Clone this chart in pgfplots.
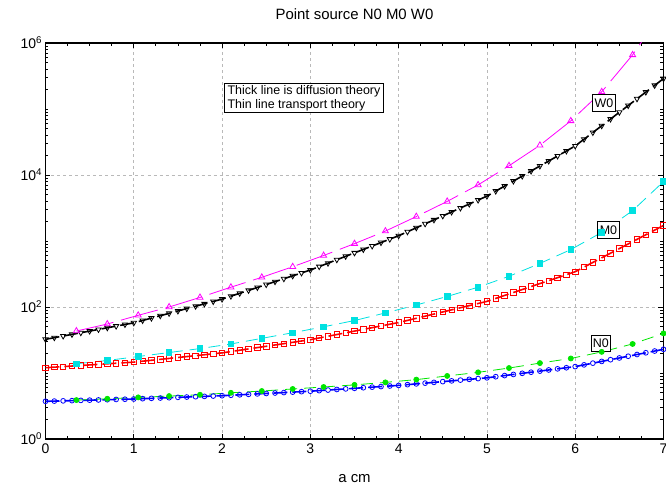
\documentclass[border=0pt]{standalone}
\usepackage{pgfplots}
\pgfplotsset{compat=1.18}
\usepackage{pgfplotstable}
\usepackage{fontspec}
\setmainfont{Liberation Sans}

\pgfplotstableread{
x y
0.0 3.724
0.1 3.754
0.2 3.785
0.3 3.815
0.4 3.846
0.5 3.877
0.6 3.908
0.7 3.940
0.8 3.972
0.9 4.004
1.0 4.036
1.1 4.083
1.2 4.130
1.3 4.178
1.4 4.226
1.5 4.275
1.6 4.325
1.7 4.375
1.8 4.425
1.9 4.477
2.0 4.529
2.1 4.600
2.2 4.673
2.3 4.747
2.4 4.822
2.5 4.898
2.6 4.975
2.7 5.054
2.8 5.134
2.9 5.215
3.0 5.297
3.1 5.405
3.2 5.516
3.3 5.629
3.4 5.744
3.5 5.862
3.6 5.982
3.7 6.104
3.8 6.229
3.9 6.357
4.0 6.486
4.1 6.660
4.2 6.839
4.3 7.022
4.4 7.210
4.5 7.404
4.6 7.602
4.7 7.806
4.8 8.016
4.9 8.231
5.0 8.451
5.1 8.790
5.2 9.141
5.3 9.506
5.4 9.886
5.5 10.28
5.6 10.69
5.7 11.12
5.8 11.56
5.9 12.02
6.0 12.50
6.1 13.28
6.2 14.10
6.3 14.98
6.4 15.91
6.5 16.90
6.6 17.95
6.7 19.06
6.8 20.25
6.9 21.51
7.0 22.85
}\NzeroDiff

\pgfplotstableread{
x y
0.0 12.02
0.1 12.26
0.2 12.50
0.3 12.75
0.4 13.00
0.5 13.26
0.6 13.52
0.7 13.79
0.8 14.06
0.9 14.34
1.0 14.62
1.1 15.10
1.2 15.59
1.3 16.10
1.4 16.63
1.5 17.18
1.6 17.74
1.7 18.32
1.8 18.92
1.9 19.54
2.0 20.18
2.1 21.13
2.2 22.13
2.3 23.17
2.4 24.26
2.5 25.40
2.6 26.60
2.7 27.85
2.8 29.16
2.9 30.54
3.0 31.98
3.1 33.95
3.2 36.05
3.3 38.27
3.4 40.64
3.5 43.14
3.6 45.81
3.7 48.63
3.8 51.64
3.9 54.82
4.0 58.21
4.1 62.66
4.2 67.45
4.3 72.61
4.4 78.16
4.5 84.14
4.6 90.57
4.7 97.49
4.8 104.9
4.9 113.0
5.0 121.6
5.1 134.9
5.2 149.6
5.3 165.9
5.4 184.0
5.5 204.0
5.6 226.3
5.7 250.9
5.8 278.3
5.9 308.6
6.0 342.5
6.1 402.8
6.2 473.2
6.3 556.0
6.4 653.2
6.5 767.5
6.6 901.7
6.7 1059
6.8 1245
6.9 1462
7.0 1718
}\MzeroDiff

\pgfplotstableread{
x y
0.0 32.36
0.1 34.28
0.2 36.31
0.3 38.46
0.4 40.74
0.5 43.15
0.6 45.71
0.7 48.42
0.8 51.29
0.9 54.33
1.0 57.54
1.1 62.51
1.2 67.90
1.3 73.76
1.4 80.12
1.5 87.04
1.6 94.55
1.7 102.7
1.8 111.6
1.9 121.2
2.0 131.8
2.1 145.9
2.2 161.4
2.3 178.6
2.4 197.6
2.5 218.8
2.6 242.1
2.7 267.9
2.8 296.5
2.9 328.1
3.0 363.1
3.1 409.3
3.2 461.4
3.3 520.0
3.4 586.2
3.5 660.7
3.6 744.7
3.7 839.5
3.8 946.2
3.9 1067
4.0 1202
4.1 1380
4.2 1585
4.3 1820
4.4 2089
4.5 2399
4.6 2754
4.7 3162
4.8 3631
4.9 4169
5.0 4786
5.1 5701
5.2 6792
5.3 8091
5.4 9638
5.5 11480
5.6 13680
5.7 16290
5.8 19410
5.9 23120
6.0 27540
6.1 34830
6.2 44050
6.3 55710
6.4 70460
6.5 89120
6.6 112700
6.7 142600
6.8 180300
6.9 228000
7.0 288400
}\WzeroDiff

\pgfplotstableread{
x y
0.35 3.89
0.70 4.07
1.05 4.27
1.40 4.47
1.75 4.68
2.10 5.01
2.45 5.33
2.80 5.73
3.15 6.14
3.50 6.61
3.85 7.21
4.20 7.94
4.55 9.02
4.90 10.23
5.25 11.89
5.60 14.13
5.95 16.60
6.30 20.89
6.65 27.54
7.00 39.81
}\NzeroTrans

\pgfplotstableread{
x y
0.35 13.80
0.70 15.49
1.05 17.78
1.40 20.42
1.75 23.44
2.10 27.54
2.45 33.50
2.80 40.74
3.15 50.12
3.50 62.37
3.85 81.28
4.20 107.2
4.55 144.5
4.90 199.5
5.25 291.7
5.60 457.1
5.95 741.3
6.30 1349
6.65 2884
7.00 7943
}\MzeroTrans

\pgfplotstableread{
x y
0.35 43.25
0.70 55.21
1.05 74.82
1.40 100.0
1.75 139.6
2.10 199.5
2.45 281.8
2.80 407.4
3.15 602.6
3.50 912.0
3.85 1413
4.20 2344
4.55 3981
4.90 7079
5.25 13800
5.60 28180
5.95 66070
6.30 182000
6.65 660700
7.00 3162000
}\WzeroTrans

\definecolor{cgreen}{RGB}{0,230,0}
\definecolor{ccyan}{RGB}{0,225,225}
\definecolor{cmag}{RGB}{255,0,255}

\begin{document}
\begin{tikzpicture}
\begin{axis}[
  scale only axis,
  width=618bp, height=396bp,
  at={(0,0)}, anchor=south west,
  ymode=log,
  xmin=0, xmax=7,
  ymin=1, ymax=1e6,
  xtick={0,1,2,3,4,5,6,7},
  xticklabels={0,1,2,3,4,5,6,7},
  minor x tick num=3,
  ytick={1,100,10000,1000000},
  yticklabels={10\textsuperscript{0},10\textsuperscript{2},10\textsuperscript{4},10\textsuperscript{6}},
  minor ytick={2,3,4,5,6,7,8,9,10,20,30,40,50,60,70,80,90,200,300,400,500,600,700,800,900,1000,2000,3000,4000,5000,6000,7000,8000,9000,20000,30000,40000,50000,60000,70000,80000,90000,100000,200000,300000,400000,500000,600000,700000,800000,900000},
  grid=major,
  major grid style={gray!55, line width=0.6bp, dash pattern=on 3bp off 3bp},
  axis line style={line width=1.3bp},
  tick style={black, line width=0.8bp},
  major tick length=5bp,
  minor tick length=3bp,
  tick label style={font=\fontsize{14}{16}\selectfont},
  xticklabel style={yshift=-1bp},
  title={Point source N0 M0 W0},
  title style={font=\fontsize{15}{17}\selectfont, at={(0.5,1)}, anchor=base, yshift=18bp},
  xlabel={a cm},
  xlabel style={font=\fontsize{15}{17}\selectfont, yshift=-14bp},
  clip=true,
]
% N0
\addplot[blue, line width=1.6bp, dash pattern=on 14bp off 5bp, mark=o, mark size=2.4bp, mark options={solid, line width=0.8bp}] table[x=x,y=y] {\NzeroDiff};
\addplot[cgreen, line width=0.8bp, dash pattern=on 12bp off 7bp, mark=*, mark size=2.5bp, mark options={solid, fill=cgreen}] table[x=x,y=y] {\NzeroTrans};
% M0
\addplot[red, line width=1.6bp, dash pattern=on 14bp off 5bp, mark=square, mark size=2.7bp, mark options={solid, line width=0.8bp}] table[x=x,y=y] {\MzeroDiff};
\addplot[ccyan, line width=0.8bp, dash pattern=on 12bp off 7bp, mark=square*, mark size=2.8bp, mark options={solid, fill=ccyan}] table[x=x,y=y] {\MzeroTrans};
% W0
\addplot[black, line width=1.6bp, dash pattern=on 14bp off 5bp, mark=triangle, mark size=3bp, mark options={solid, rotate=180, line width=0.8bp}] table[x=x,y=y] {\WzeroDiff};
\addplot[cmag, line width=0.8bp, dash pattern=on 38bp off 8bp, mark=triangle, mark size=3.5bp, mark options={solid, line width=0.8bp}] table[x=x,y=y] {\WzeroTrans};

\node[draw=black, line width=0.7bp, fill=white, align=left, anchor=north west, inner xsep=3bp, inner ysep=2bp, font=\fontsize{12.5}{13.5}\selectfont] at (axis cs:2.025,2.45e5) {Thick line is diffusion theory\\Thin line transport theory};
\node[draw=black, line width=0.7bp, fill=white, inner xsep=2bp, inner ysep=4bp, font=\fontsize{12.5}{14}\selectfont] at (axis cs:6.325,1.23e5) {W0};
\node[draw=black, line width=0.7bp, fill=white, inner xsep=2bp, inner ysep=4bp, font=\fontsize{12.5}{14}\selectfont] at (axis cs:6.376,1467) {M0};
\node[draw=black, line width=0.7bp, fill=white, inner xsep=2bp, inner ysep=4bp, font=\fontsize{12.5}{14}\selectfont] at (axis cs:6.29,28.2) {N0};
\end{axis}
\pgfresetboundingbox
\path (-45.5bp,-48bp) rectangle (620.5bp,439bp);
\end{tikzpicture}
\end{document}
